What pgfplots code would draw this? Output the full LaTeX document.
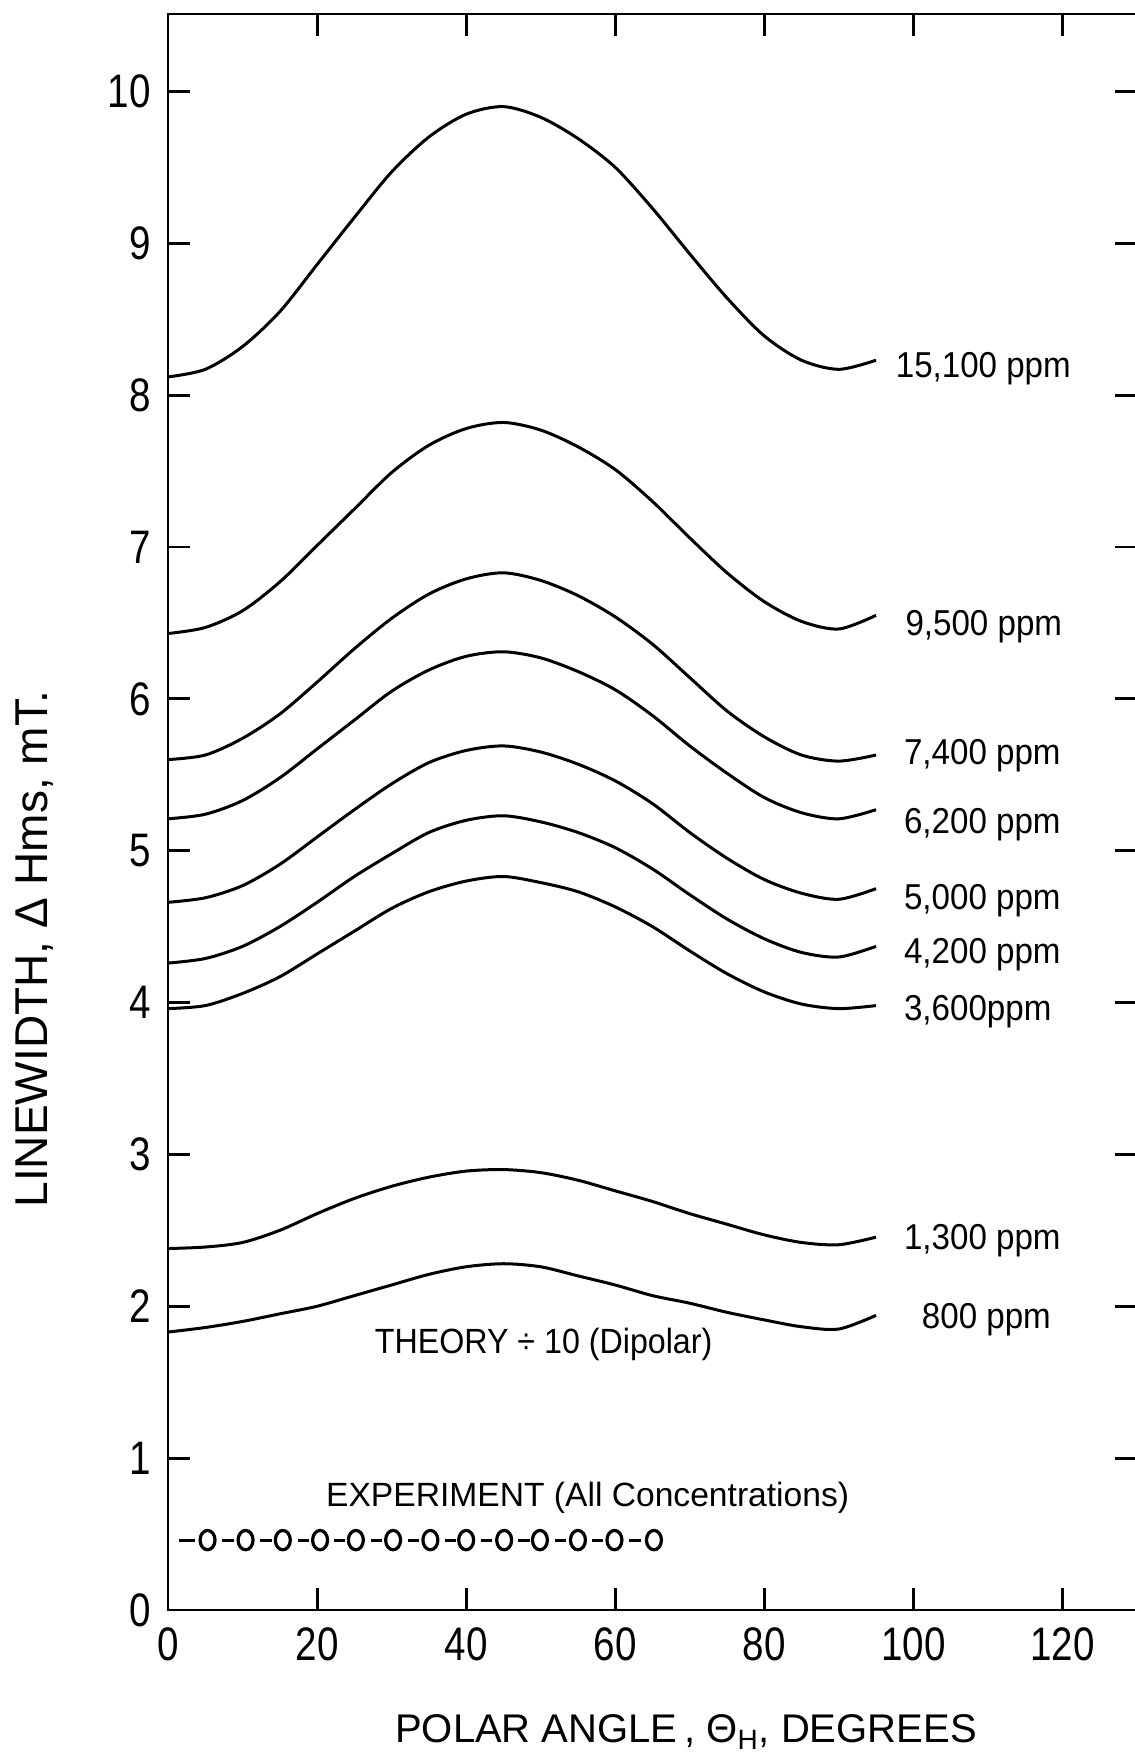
\documentclass[border=0pt]{standalone}
\usepackage{fontspec}
\setmainfont{Liberation Sans}
\newfontfamily\tickfont{Liberation Sans}[FakeStretch=0.82]
\newfontfamily\labfont{Liberation Sans}[FakeStretch=0.92]
\usepackage{pgfplots}
\pgfplotsset{compat=1.18}
\pgfplotsset{curve/.style={black, solid, mark=none, line width=1.5pt, smooth, tension=0.5}}
\begin{document}
\begin{tikzpicture}
\begin{axis}[
  name=ax,
  scale only axis,
  width=484.25pt, height=797.7pt,
  xmin=0, xmax=130, ymin=0, ymax=10.51,
  xtick={0,20,...,120}, ytick={0,1,...,10},
  tick pos=both,
  tick align=inside,
  major tick length=11pt,
  axis line style={line width=1.4pt},
  every tick/.style={line width=1.4pt, black},
  /pgf/number format/assume math mode=true,
  xticklabel style={font=\tickfont\fontsize{23.5}{23.5}\selectfont, inner sep=0pt, anchor=north, yshift=-8.5pt},
  yticklabel style={font=\tickfont\fontsize{23.5}{23.5}\selectfont, inner sep=0pt, anchor=east, xshift=-8.5pt},
  clip=false,
]
% 15,100 ppm
\addplot[curve] coordinates {(0,8.12)(5,8.17)(10,8.32)(15,8.55)(20,8.86)(25,9.17)(30,9.47)(35,9.70)(40,9.85)(45,9.90)(50,9.83)(55,9.69)(60,9.50)(65,9.23)(70,8.93)(75,8.64)(80,8.39)(85,8.23)(90,8.17)(95,8.23)};
% 9,500 ppm
\addplot[curve] coordinates {(0,6.43)(5,6.47)(10,6.58)(15,6.77)(20,7.01)(25,7.25)(30,7.49)(35,7.67)(40,7.78)(45,7.82)(50,7.77)(55,7.66)(60,7.51)(65,7.30)(70,7.06)(75,6.83)(80,6.64)(85,6.51)(90,6.46)(95,6.55)};
% 7,400 ppm
\addplot[curve] coordinates {(0,5.60)(5,5.63)(10,5.74)(15,5.90)(20,6.11)(25,6.33)(30,6.53)(35,6.69)(40,6.79)(45,6.83)(50,6.78)(55,6.68)(60,6.54)(65,6.36)(70,6.14)(75,5.92)(80,5.75)(85,5.63)(90,5.59)(95,5.63)};
% 6,200 ppm
\addplot[curve] coordinates {(0,5.21)(5,5.24)(10,5.33)(15,5.48)(20,5.67)(25,5.86)(30,6.05)(35,6.19)(40,6.28)(45,6.31)(50,6.27)(55,6.18)(60,6.06)(65,5.89)(70,5.69)(75,5.51)(80,5.35)(85,5.25)(90,5.21)(95,5.27)};
% 5,000 ppm
\addplot[curve] coordinates {(0,4.66)(5,4.69)(10,4.77)(15,4.91)(20,5.09)(25,5.27)(30,5.44)(35,5.58)(40,5.66)(45,5.69)(50,5.65)(55,5.57)(60,5.46)(65,5.31)(70,5.12)(75,4.95)(80,4.81)(85,4.72)(90,4.68)(95,4.75)};
% 4,200 ppm
\addplot[curve] coordinates {(0,4.26)(5,4.29)(10,4.37)(15,4.50)(20,4.66)(25,4.83)(30,4.98)(35,5.12)(40,5.20)(45,5.23)(50,5.19)(55,5.12)(60,5.02)(65,4.88)(70,4.71)(75,4.55)(80,4.42)(85,4.33)(90,4.30)(95,4.37)};
% 3,600 ppm
\addplot[curve] coordinates {(0,3.96)(5,3.98)(10,4.06)(15,4.17)(20,4.32)(25,4.47)(30,4.62)(35,4.73)(40,4.80)(45,4.83)(50,4.79)(55,4.73)(60,4.63)(65,4.50)(70,4.34)(75,4.19)(80,4.07)(85,3.99)(90,3.96)(95,3.98)};
% 1,300 ppm
\addplot[curve] coordinates {(0,2.38)(5,2.39)(10,2.42)(15,2.50)(20,2.61)(25,2.71)(30,2.79)(35,2.85)(40,2.89)(45,2.90)(50,2.88)(55,2.83)(60,2.76)(65,2.69)(70,2.61)(75,2.54)(80,2.47)(85,2.42)(90,2.405)(95,2.455)};
% 800 ppm
\addplot[curve] coordinates {(0,1.83)(5,1.86)(10,1.90)(15,1.95)(20,2.00)(25,2.07)(30,2.14)(35,2.21)(40,2.26)(45,2.28)(50,2.26)(55,2.20)(60,2.14)(65,2.07)(70,2.02)(75,1.96)(80,1.91)(85,1.865)(90,1.85)(95,1.94)};
% experiment
\addplot[black, solid, mark=none, line width=1.5pt, sharp plot, unbounded coords=jump] coordinates {(1.5,0.46)(3.6,0.46)(5,nan)(7.3,0.46)(8.8,0.46)(9,nan)(12.4,0.46)(13.9,0.46)(14,nan)(17.4,0.46)(18.9,0.46)(19,nan)(22.3,0.46)(23.8,0.46)(24,nan)(27.2,0.46)(28.7,0.46)(29,nan)(32.2,0.46)(33.7,0.46)(34,nan)(37.1,0.46)(38.6,0.46)(39,nan)(42.0,0.46)(43.5,0.46)(44,nan)(47.0,0.46)(48.5,0.46)(49,nan)(51.9,0.46)(53.4,0.46)(54,nan)(56.9,0.46)(58.4,0.46)(59,nan)(61.9,0.46)(63.4,0.46)};
\addplot[black, only marks, mark=o, mark size=4.4pt, mark options={black, solid, line width=1.6pt, xscale=0.85, yscale=1.1, fill=white}] coordinates {(5.3,0.46)(10.4,0.46)(15.4,0.46)(20.4,0.46)(25.2,0.46)(30.2,0.46)(35.2,0.46)(40.0,0.46)(45.1,0.46)(49.9,0.46)(55.0,0.46)(59.9,0.46)(65.2,0.46)};
% curve labels
\begin{scope}[every node/.style={inner sep=0pt, anchor=base west, font=\labfont\fontsize{18}{18}\selectfont}]
\node at (axis cs:97.6,8.115) {15,100 ppm};
\node at (axis cs:98.9,6.415) {9,500 ppm};
\node at (axis cs:98.7,5.565) {7,400 ppm};
\node at (axis cs:98.7,5.115) {6,200 ppm};
\node at (axis cs:98.7,4.615) {5,000 ppm};
\node at (axis cs:98.7,4.255) {4,200 ppm};
\node at (axis cs:98.7,3.885) {3,600ppm};
\node at (axis cs:98.7,2.375) {1,300 ppm};
\node at (axis cs:101.1,1.855) {800 ppm};
\end{scope}
\node[inner sep=0pt, anchor=base, font=\labfont\fontsize{17.5}{17.5}\selectfont] at (axis cs:50.4,1.69) {THEORY ÷ 10 (Dipolar)};
\node[inner sep=0pt, anchor=base, font=\fontsize{16.8}{16.8}\selectfont] at (axis cs:56.3,0.68) {EXPERIMENT (All Concentrations)};
\path (rel axis cs:0.5346,0) ++(0,-66.5pt) node[inner sep=0pt, anchor=base, font=\fontsize{20}{20}\selectfont] {POLAR ANGLE\,, Θ\textsubscript{H}, DEGREES};
\path (rel axis cs:0,0.414) ++(-60.5pt,0) node[inner sep=0pt, anchor=base, rotate=90, font=\fontsize{23}{23}\selectfont] {LINEWIDTH, Δ Hms, mT.};
\end{axis}
\pgfresetboundingbox
\path[use as bounding box] (ax.south west) ++(-84pt,-73.5pt) rectangle ++(567pt,878.2pt);
\end{tikzpicture}
\end{document}
